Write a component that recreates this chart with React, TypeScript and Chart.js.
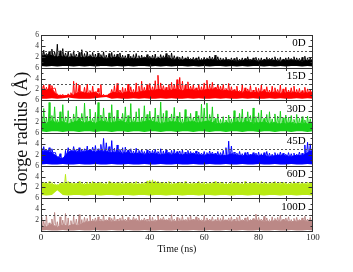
import React, { useEffect, useRef } from 'react';
import { Chart, registerables } from 'chart.js';
Chart.register(...registerables);

const panelLabels = ['0D', '15D', '30D', '45D', '60D', '100D'];
const panelColors = ['#000000', '#ff0000', '#18d018', '#0000ff', '#b8ea12', '#bb8886'];
const xTickValues = [0, 20, 40, 60, 80, 100];
const yTickLabels = ['2', '4', '6'];
const dashLevel = 3;
const panelRange = 6;

// time grids (ns)
const timeFine = Array.from({ length: 101 }, (_, i) => i);
const timeCoarse = Array.from({ length: 51 }, (_, i) => i * 2);

// ---- 0D ----
const hi0D = [2.8,3.2,2.6,3.0,3.4,2.9,4.3,3.1,3.5,2.7,3.0,
 2.6,3.1,2.5,2.8,3.3,2.6,2.9,2.4,2.8,2.5,
 2.7,2.4,2.9,2.3,2.6,2.8,2.4,2.5,2.7,2.3,
 2.2,2.5,2.1,2.4,2.6,2.2,2.3,2.0,2.4,2.1,
 2.3,2.5,2.0,2.4,2.2,2.6,2.3,2.7,2.2,2.0,
 1.9,2.1,1.8,2.0,1.7,1.9,1.8,2.0,1.7,1.9,
 1.8,2.1,1.9,2.3,2.0,1.8,1.7,1.9,1.6,1.8,
 1.7,1.9,1.6,1.8,1.7,2.0,1.6,1.8,1.9,1.7,
 1.8,1.6,1.9,1.7,1.8,2.0,1.7,1.9,1.6,1.8,
 1.9,1.7,2.0,1.8,1.7,1.9,2.1,1.8,1.9,2.0];
const band0D = [2.1,2.3,2.2,2.0,2.1,1.9,2.0,1.8,1.9,2.0,
 1.8,1.9,1.7,1.8,1.9,1.7,1.6,1.7,1.6,1.8,
 1.7,1.6,1.7,1.8,1.6,1.5,1.4,1.5,1.4,1.3,
 1.4,1.5,1.4,1.3,1.4,1.3,1.2,1.3,1.4,1.3,
 1.2,1.3,1.4,1.3,1.2,1.3,1.4,1.3,1.2,1.3,1.4];
const lo0D = [0.3,0.2,0.3,0.2,0.3,0.3,0.2,0.3,0.2,0.3,0.2,0.3,0.3,0.2,0.3,0.2,0.3,0.2,0.3,0.3,0.2,0.3,0.2,0.3,0.2,0.3,0.3,0.2,0.3,0.2,0.3,0.2,0.3,0.3,0.2,0.3,0.2,0.3,0.2,0.3,0.3,0.2,0.3,0.2,0.3,0.2,0.3,0.3,0.2,0.3,0.2];

// ---- 15D ----
const hi15D = [2.6,2.8,2.4,3.0,2.7,2.3,1.2,1.0,1.1,0.9,1.2,
 1.4,3.5,3.2,2.8,1.6,2.4,3.0,1.8,2.6,1.5,
 2.2,2.9,1.1,1.0,1.2,2.0,2.7,3.1,1.9,2.4,
 2.2,3.0,2.5,2.0,3.2,2.6,3.5,2.4,2.9,3.1,
 2.5,3.6,4.6,3.2,2.7,2.4,2.9,3.3,3.0,3.8,
 4.2,3.5,2.8,3.4,2.6,2.9,2.3,3.0,2.5,3.2,
 3.7,2.8,3.3,2.4,3.0,2.6,2.9,2.2,3.1,2.5,
 2.0,2.6,1.8,2.9,2.3,2.1,2.7,1.9,2.4,2.2,
 2.8,2.0,2.5,1.9,2.6,2.3,2.0,2.8,2.1,2.4,
 1.9,2.3,2.6,2.0,2.2,1.8,2.4,2.1,1.9,2.2];
const band15D = [2.0,1.9,2.1,0.9,0.8,0.9,1.0,1.5,1.4,1.3,
 1.5,0.9,0.8,1.4,1.5,1.3,1.6,1.4,1.5,1.7,
 1.8,1.9,2.0,1.8,1.9,2.1,1.8,2.0,1.9,1.8,
 1.9,2.0,2.1,1.9,1.8,1.7,1.6,1.5,1.6,1.4,
 1.5,1.6,1.4,1.5,1.3,1.4,1.5,1.4,1.3,1.4,1.5];
const lo15D = [0.3,0.3,0.4,0.3,0.4,0.5,0.4,0.3,0.3,0.3,0.4,0.5,0.6,0.3,0.4,0.3,0.3,0.4,0.3,0.4,0.3,0.3,0.4,0.3,0.4,0.3,0.3,0.4,0.3,0.4,0.3,0.3,0.4,0.3,0.4,0.3,0.3,0.4,0.3,0.4,0.3,0.3,0.4,0.3,0.4,0.3,0.3,0.4,0.3,0.4,0.3];

// ---- 30D ----
const hi30D = [3.0,4.5,2.8,5.6,3.2,4.8,2.5,3.9,5.2,3.0,4.1,
 2.6,3.5,4.9,2.8,3.6,5.5,3.1,4.4,2.7,3.8,
 5.6,3.3,4.6,2.9,3.7,5.2,3.0,4.2,2.6,3.6,
 4.8,3.2,5.4,2.7,3.9,4.5,2.8,5.0,3.4,4.0,
 2.9,4.6,3.3,5.7,3.6,4.1,2.8,3.5,4.7,3.1,
 3.8,2.6,4.3,3.0,3.6,2.8,4.0,3.2,5.3,4.6,
 5.5,3.4,4.8,2.7,3.5,2.5,3.0,2.4,3.3,2.6,
 4.1,2.9,3.6,4.4,2.8,3.9,3.2,4.6,3.0,3.7,
 4.2,2.7,3.4,3.9,2.6,3.5,3.1,4.0,2.8,3.3,
 2.9,3.2,2.5,3.4,2.7,3.0,2.4,3.1,2.6,2.8];
const band30D = [2.0,1.8,2.2,1.9,2.1,1.7,2.0,2.3,1.9,2.1,
 1.8,2.2,2.0,1.9,2.1,2.2,1.8,2.0,1.9,2.1,
 2.3,2.0,1.8,1.9,2.1,2.0,1.8,2.0,2.1,1.9,
 2.1,2.2,1.8,1.7,1.9,1.8,2.0,1.9,2.1,1.8,
 1.9,2.0,1.8,1.9,1.7,1.8,1.9,1.7,1.8,1.7,1.8];
const lo30D = [0.3,0.2,0.3,0.3,0.2,0.3,0.3,0.2,0.3,0.3,0.2,0.3,0.3,0.2,0.3,0.3,0.2,0.3,0.3,0.2,0.3,0.3,0.2,0.3,0.3,0.2,0.3,0.3,0.2,0.3,0.3,0.2,0.3,0.3,0.2,0.3,0.3,0.2,0.3,0.3,0.2,0.3,0.3,0.2,0.3,0.3,0.2,0.3,0.3,0.2,0.3];

// ---- 45D ----
const hi45D = [3.2,3.5,3.0,3.3,3.1,2.4,1.6,2.2,1.4,2.8,3.3,
 2.9,3.5,3.0,3.3,2.9,3.1,3.6,2.8,3.4,3.7,
 3.1,3.9,5.0,4.2,3.5,4.6,3.2,3.8,3.0,3.3,
 3.4,2.9,3.1,2.7,3.2,2.8,3.0,2.6,2.9,2.7,
 2.8,3.0,2.6,3.1,2.7,2.9,2.5,2.8,3.0,2.6,
 2.7,2.9,2.5,2.8,2.6,2.4,2.7,2.5,2.3,2.6,
 2.4,2.7,2.5,2.3,2.6,2.4,2.8,3.3,4.5,3.6,
 2.5,2.3,2.6,2.2,2.4,2.5,2.1,2.4,2.3,2.5,
 2.2,2.4,2.6,2.3,2.1,2.4,2.2,2.5,2.3,2.1,
 2.4,2.2,2.3,2.1,2.5,2.3,3.8,4.3,4.0,3.5];
const band45D = [2.6,2.7,2.4,1.6,1.3,2.5,2.7,2.4,2.6,2.8,
 2.5,2.7,2.6,2.4,2.5,2.3,2.4,2.2,2.3,2.1,
 2.2,2.3,2.0,2.2,2.1,2.2,2.0,2.1,2.2,2.0,
 1.9,2.1,2.0,1.9,1.8,2.2,1.9,1.8,1.9,2.0,
 1.8,1.9,1.7,1.8,1.9,1.8,1.7,1.9,1.8,2.4,2.8];
const lo45D = [0.2,0.3,0.2,0.2,0.3,0.2,0.2,0.3,0.2,0.2,0.3,0.2,0.2,0.3,0.2,0.2,0.3,0.2,0.2,0.3,0.2,0.2,0.3,0.2,0.2,0.3,0.2,0.2,0.3,0.2,0.2,0.3,0.2,0.2,0.3,0.2,0.2,0.3,0.2,0.2,0.3,0.2,0.2,0.3,0.2,0.2,0.3,0.2,0.2,0.3,0.2];

// ---- 60D ----
const hi60D = [2.9,3.0,2.8,3.1,2.9,2.7,2.5,2.8,3.0,4.4,3.1,
 2.9,3.0,2.8,3.1,2.9,2.8,3.0,2.9,3.1,2.8,
 3.0,2.9,2.8,3.0,3.1,2.9,2.8,3.0,2.9,3.1,
 2.9,2.8,3.0,2.9,3.1,2.8,3.0,2.9,3.2,3.3,
 3.4,3.2,3.1,2.9,3.0,2.8,3.1,2.9,3.0,2.8,
 3.0,2.9,3.1,2.8,3.0,2.9,2.8,3.1,2.9,3.0,
 2.8,3.0,2.9,3.1,2.8,3.0,2.9,3.0,2.8,3.1,
 2.9,3.0,2.8,2.9,3.1,2.8,3.0,2.9,3.0,2.8,
 3.1,2.9,2.8,3.0,2.9,3.1,2.8,3.0,2.9,3.0,
 2.8,2.9,3.1,2.8,3.0,2.9,2.8,3.0,2.9,2.8];
const band60D = [2.6,2.7,2.5,2.4,2.6,2.7,2.6,2.7,2.5,2.6,
 2.7,2.6,2.5,2.7,2.6,2.5,2.7,2.6,2.5,2.6,
 2.8,2.9,2.7,2.6,2.5,2.7,2.6,2.5,2.6,2.7,
 2.5,2.6,2.7,2.6,2.5,2.6,2.7,2.5,2.6,2.7,
 2.6,2.5,2.6,2.7,2.6,2.5,2.6,2.7,2.5,2.6,2.7];
const lo60D = [0.6,0.5,0.6,1.5,0.6,0.5,0.6,0.6,0.5,0.6,
 0.6,0.5,0.6,0.6,0.5,0.6,0.6,0.5,0.6,0.6,
 0.5,0.6,0.6,0.5,0.6,0.6,0.5,0.6,0.6,0.5,
 0.6,0.6,0.5,0.6,0.6,0.5,0.6,0.6,0.5,0.6,
 0.6,0.5,0.6,0.6,0.5,0.6,0.6,0.5,0.6,0.6,0.5];

// ---- 100D ----
const hi100D = [2.5,1.8,2.9,1.5,2.2,3.4,1.7,2.6,2.0,3.2,2.4,
 1.9,2.7,2.2,3.0,2.1,2.5,2.3,2.8,2.2,2.4,
 2.6,2.2,2.9,2.1,2.5,2.3,2.7,2.2,2.4,2.8,
 2.2,2.5,2.1,2.6,2.3,2.9,2.1,2.4,2.2,2.7,
 2.5,2.1,2.8,2.3,2.6,2.1,2.4,3.0,2.2,2.5,
 2.3,2.7,2.1,2.5,2.9,2.2,2.6,2.4,2.1,2.8,
 2.4,2.2,2.6,2.1,2.5,2.3,2.7,2.1,2.4,2.6,
 2.2,2.5,2.8,2.1,2.4,2.6,2.1,2.3,3.1,2.5,
 2.2,2.7,2.4,2.1,2.6,2.3,2.5,2.9,2.2,2.4,
 2.6,2.1,2.3,2.5,2.1,2.4,2.7,2.2,2.5,2.3];
const band100D = [1.0,0.8,1.2,0.7,1.1,0.9,1.2,1.0,1.6,1.7,
 1.8,1.7,1.9,1.8,1.7,1.9,1.8,2.0,1.8,1.9,
 1.7,1.8,2.0,1.9,1.8,1.7,1.9,1.8,2.0,1.9,
 1.8,1.9,1.7,1.8,1.9,1.8,1.7,1.9,1.8,2.0,
 1.9,1.8,1.7,1.9,1.8,1.9,1.7,1.8,1.9,1.8,1.7];
const lo100D = [0.1,0.2,0.1,0.1,0.2,0.1,0.1,0.2,0.1,0.1,0.2,0.1,0.1,0.2,0.1,0.1,0.2,0.1,0.1,0.2,0.1,0.1,0.2,0.1,0.1,0.2,0.1,0.1,0.2,0.1,0.1,0.2,0.1,0.1,0.2,0.1,0.1,0.2,0.1,0.1,0.2,0.1,0.1,0.2,0.1,0.1,0.2,0.1,0.1,0.2,0.1];

const hiSeries = [hi0D, hi15D, hi30D, hi45D, hi60D, hi100D];
const bandSeries = [band0D, band15D, band30D, band45D, band60D, band100D];
const loSeries = [lo0D, lo15D, lo30D, lo45D, lo60D, lo100D];

const FONT = '"Liberation Serif", "Times New Roman", serif';

function buildDatasets() {
  const ds: any[] = [];
  for (let k = 0; k < 6; k++) {
    const off = (5 - k) * panelRange;
    const color = panelColors[k];
    const lo = loSeries[k], band = bandSeries[k], hi = hiSeries[k];
    ds.push({
      data: timeCoarse.map((t, j) => ({ x: t, y: lo[j] + off })),
      borderWidth: 0, borderColor: 'rgba(0,0,0,0)', pointRadius: 0, fill: false,
    });
    ds.push({
      data: timeCoarse.map((t, j) => ({ x: t, y: band[j] + off })),
      borderWidth: 1, borderColor: color, backgroundColor: color, pointRadius: 0, fill: '-1',
    });
    const needles: { x: number; y: number }[] = [];
    timeFine.forEach((t, i) => {
      const j = Math.min(band.length - 1, Math.floor(i / 2));
      needles.push({ x: t - 0.3, y: band[j] + off });
      needles.push({ x: t, y: hi[i] + off });
      needles.push({ x: t + 0.3, y: band[j] + off });
    });
    ds.push({ data: needles, borderWidth: 1, borderColor: color, pointRadius: 0, fill: false });
  }
  return ds;
}

const panelPlugin = {
  id: 'panels',
  afterDatasetsDraw(chart: any) {
    const { ctx, chartArea, scales } = chart;
    const { left, right } = chartArea;
    const x = scales.x, y = scales.y;
    ctx.save();
    ctx.strokeStyle = '#555';
    ctx.lineWidth = 1;
    ctx.setLineDash([2, 2]);
    for (let k = 0; k < 6; k++) {
      const py = Math.round(y.getPixelForValue(k * panelRange + dashLevel)) + 0.5;
      ctx.beginPath(); ctx.moveTo(left, py); ctx.lineTo(right, py); ctx.stroke();
    }
    ctx.setLineDash([]);
    ctx.strokeStyle = '#333';
    for (let k = 0; k <= 6; k++) {
      const py = Math.round(y.getPixelForValue(k * panelRange)) + 0.5;
      ctx.beginPath(); ctx.moveTo(left, py); ctx.lineTo(right, py); ctx.stroke();
    }
    const top = Math.round(y.getPixelForValue(36)) + 0.5;
    const bot = Math.round(y.getPixelForValue(0)) + 0.5;
    const lx = Math.round(left) + 0.5, rx = Math.round(right) - 0.5;
    ctx.beginPath(); ctx.moveTo(lx, top); ctx.lineTo(lx, bot); ctx.stroke();
    ctx.beginPath(); ctx.moveTo(rx, top); ctx.lineTo(rx, bot); ctx.stroke();
    for (let t = 10; t < 100; t += 10) {
      const px = Math.round(x.getPixelForValue(t)) + 0.5;
      const len = t % 20 === 0 ? 4 : 2.5;
      for (let k = 0; k <= 6; k++) {
        const py = Math.round(y.getPixelForValue(k * panelRange)) + 0.5;
        ctx.beginPath();
        if (k < 6) { ctx.moveTo(px, py); ctx.lineTo(px, py - len); }
        if (k > 0) { ctx.moveTo(px, py); ctx.lineTo(px, py + len); }
        ctx.stroke();
      }
    }
    for (let v = 0; v <= 36; v++) {
      const py = Math.round(y.getPixelForValue(v)) + 0.5;
      const len = v % 2 === 0 ? 4 : 2;
      ctx.beginPath();
      ctx.moveTo(lx, py); ctx.lineTo(lx + len, py);
      ctx.moveTo(rx, py); ctx.lineTo(rx - len, py);
      ctx.stroke();
    }
    ctx.fillStyle = '#000';
    ctx.font = '11px ' + FONT;
    ctx.textAlign = 'right';
    ctx.textBaseline = 'middle';
    for (let k = 0; k < 6; k++) {
      const py = y.getPixelForValue((6 - k) * panelRange) + 8.5;
      ctx.fillText(panelLabels[k], x.getPixelForValue(97.3), py);
    }
    ctx.restore();
  },
};

export default function App() {
  const ref = useRef<HTMLCanvasElement>(null);
  useEffect(() => {
    document.body.style.margin = '0';
    const chart = new Chart(ref.current!, {
      type: 'line',
      data: { datasets: buildDatasets() },
      options: {
        animation: false,
        responsive: false,
        maintainAspectRatio: false,
        layout: { padding: { left: 0, right: 40, top: 35, bottom: 0 } },
        plugins: { legend: { display: false }, tooltip: { enabled: false } },
        elements: { line: { tension: 0 } },
        scales: {
          x: {
            type: 'linear', min: 0, max: 100,
            grid: { display: false, drawTicks: false },
            border: { display: false },
            afterBuildTicks: (s: any) => { s.ticks = xTickValues.map((v) => ({ value: v })); },
            ticks: { padding: 1, color: '#222', font: { family: FONT, size: 9 }, autoSkip: false, maxRotation: 0 },
            title: { display: true, text: 'Time (ns)', color: '#111', font: { family: FONT, size: 10 }, padding: { top: 0, bottom: 17 } },
            afterFit: (s: any) => { s.height = 41; },
          },
          y: {
            type: 'linear', min: 0, max: 36,
            grid: { display: false, drawTicks: false },
            border: { display: false },
            afterBuildTicks: (s: any) => {
              const t: any[] = [];
              for (let k = 0; k < 6; k++) yTickLabels.forEach((l) => t.push({ value: k * panelRange + Number(l) }));
              s.ticks = t;
            },
            ticks: {
              padding: 2, color: '#333', font: { family: FONT, size: 7.5 }, autoSkip: false,
              callback: (v: any) => { const r = Number(v) % panelRange; return String(r === 0 ? panelRange : r); },
            },
            title: { display: true, text: 'Gorge radius (Å)', color: '#111', font: { family: FONT, size: 18 }, padding: { top: 11, bottom: 0 } },
            afterFit: (s: any) => { s.width = 41; },
          },
        },
      },
      plugins: [panelPlugin],
    });
    return () => chart.destroy();
  }, []);
  return (
    <div style={{ position: 'fixed', left: 0, top: 0, width: 353, height: 272, background: '#fff' }}>
      <canvas ref={ref} width={353} height={272} />
    </div>
  );
}
